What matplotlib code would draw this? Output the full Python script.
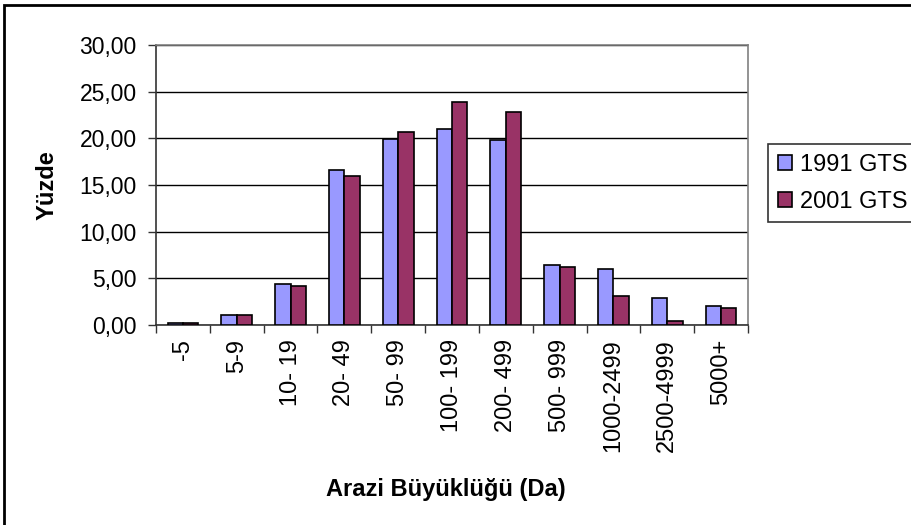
import matplotlib
matplotlib.use("Agg")
import numpy as np
import matplotlib.pyplot as plt
from matplotlib.patches import Rectangle

plt.rcParams['font.family'] = ['Liberation Sans', 'DejaVu Sans']

# data
categories = ['-5', '5-9', '10- 19', '20- 49', '50- 99', '100- 199', '200- 499',
              '500- 999', '1000-2499', '2500-4999', '5000+']
gts_1991 = [0.25, 1.03, 4.40, 16.65, 19.97, 21.00, 19.80, 6.45, 6.05, 2.90, 2.06]
gts_2001 = [0.25, 1.03, 4.19, 15.95, 20.64, 23.90, 22.86, 6.25, 3.16, 0.40, 1.84]
yticks = [0, 5, 10, 15, 20, 25, 30]

W, H = 912, 525
fig = plt.figure(figsize=(W / 100, H / 100), dpi=100)
ax = fig.add_axes([156 / W, 1 - 325 / H, 592 / W, 280 / H])

x = np.arange(len(categories))
bw = 1 / 3.5
ax.bar(x - bw / 2, gts_1991, bw, color='#9999FF', edgecolor='black', linewidth=1.2,
       label='1991 GTS', zorder=3)
ax.bar(x + bw / 2, gts_2001, bw, color='#993366', edgecolor='black', linewidth=1.2,
       label='2001 GTS', zorder=3)

ax.set_xlim(-0.5, len(categories) - 0.5)
ax.set_ylim(0, 30)
ax.set_yticks(yticks)
ax.set_yticklabels([f'{v:.2f}'.replace('.', ',') for v in yticks], fontsize=16.5)
ax.yaxis.grid(True, color='black', linewidth=1, zorder=0)
ax.set_axisbelow(True)

ax.set_xticks(x)
ax.set_xticklabels(categories, rotation=90, fontsize=17)
ax.set_xticks(np.arange(len(categories) + 1) - 0.5, minor=True)
ax.tick_params(axis='x', which='major', length=0, pad=10)
ax.tick_params(axis='x', which='minor', length=6, width=1, color='#333333')
ax.tick_params(axis='y', length=6, width=1, color='#333333', pad=8)

for side in ['top', 'right']:
    ax.spines[side].set_color('#808080')
    ax.spines[side].set_linewidth(1.2)
for side in ['left', 'bottom']:
    ax.spines[side].set_color('#333333')
    ax.spines[side].set_linewidth(1.2)

ax.set_ylabel('Yüzde', fontsize=17, fontweight='bold')
ax.yaxis.set_label_coords(-0.165, 0.5)
ax.set_xlabel('Arazi Büyüklüğü (Da)', fontsize=17, fontweight='bold')
ax.xaxis.set_label_coords(0.49, -0.546)

leg = fig.legend(loc='upper left', bbox_to_anchor=(768 / W, 1 - 144 / H),
                 fontsize=17, frameon=True, fancybox=False, edgecolor='black',
                 handlelength=0.6, handleheight=0.6, handletextpad=0.35,
                 labelspacing=0.64, borderpad=0.41, borderaxespad=0)
leg.get_frame().set_linewidth(1.2)

# chart area border (extends past the right and bottom of the picture)
fig.patches.append(Rectangle((4.5 / W, -0.1), 1.2, 1 - 5 / H + 0.1,
                             transform=fig.transFigure, fill=False,
                             edgecolor='black', linewidth=2))

fig.savefig('out.png', dpi=100)
